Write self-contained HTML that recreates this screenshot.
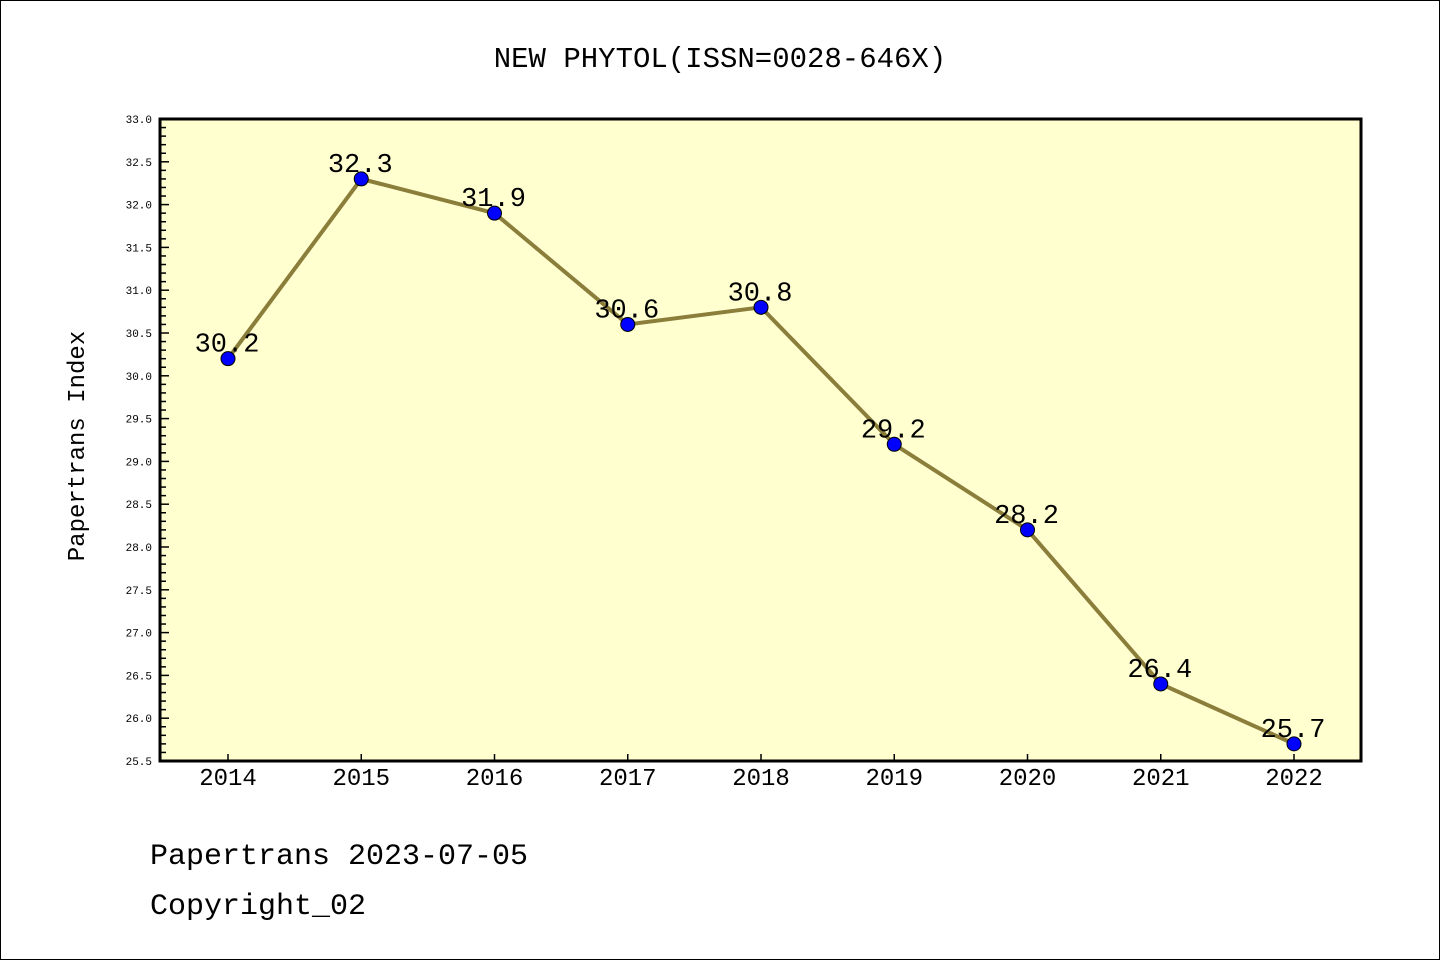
<!DOCTYPE html>
<html><head><meta charset="utf-8"><style>
html,body{margin:0;padding:0;background:#fff}
svg{display:block}
text{font-family:"Liberation Mono","WenQuanYi Zen Hei",monospace;fill:#000}
</style></head><body>
<svg id="chart" width="1440" height="960" xmlns="http://www.w3.org/2000/svg">
<rect x="0.5" y="0.5" width="1439" height="959" fill="#fff" stroke="#000"/>
<text x="720" y="67" font-size="29" text-anchor="middle">NEW PHYTOL(ISSN=0028-646X)</text>
<rect x="160" y="119" width="1201" height="642" fill="#ffffd0"/>
<g id="yaxis"></g>
<g id="xaxis"></g>
<g id="series"></g>
<rect x="160" y="119" width="1201" height="642" fill="none" stroke="#000" stroke-width="3"/>
<text transform="translate(84,446) rotate(-90)" font-size="24" text-anchor="middle">Papertrans Index</text>
<text x="150" y="864" font-size="30">Papertrans 2023-07-05</text>
<text x="150" y="914" font-size="30">Copyright_02</text>
</svg>
<script>
const years = ["2014","2015","2016","2017","2018","2019","2020","2021","2022"];
const values = [30.2,32.3,31.9,30.6,30.8,29.2,28.2,26.4,25.7];
const yTicks = ["25.5","26.0","26.5","27.0","27.5","28.0","28.5","29.0","29.5","30.0","30.5","31.0","31.5","32.0","32.5","33.0"];
const NS="http://www.w3.org/2000/svg";
const yMin=25.5,yMax=33.0,plotTop=119,plotBot=761,plotLeft=160;
const x0=228,x1=1294;
function yS(v){return plotBot-(v-yMin)/(yMax-yMin)*(plotBot-plotTop);}
function xS(i){return x0+i*(x1-x0)/(years.length-1);}
function mk(tag,attrs,parent){const e=document.createElementNS(NS,tag);for(const k in attrs)e.setAttribute(k,attrs[k]);parent.appendChild(e);return e;}
const ya=document.getElementById('yaxis'),xa=document.getElementById('xaxis'),sr=document.getElementById('series');
for(let k=0;k<=75;k++){
  const v=yMin+k*0.1,y=yS(v),major=k%5===0;
  const t=mk('line',{x1:plotLeft,x2:plotLeft+(major?9:6),y1:y,y2:y,stroke:'#000','stroke-width':1.5},ya);
  
  
}
yTicks.forEach(s=>{
  const t=mk('text',{x:plotLeft-8,y:yS(parseFloat(s))+4,'font-size':11,'text-anchor':'end','font-family':'DejaVu Sans, sans-serif'},ya);
  t.textContent=s;
  
  
});
years.forEach((yr,i)=>{
  const l=mk('line',{x1:xS(i),x2:xS(i),y1:plotBot,y2:plotBot-7,stroke:'#000','stroke-width':1.5},xa);
  
  
  const t=mk('text',{x:xS(i),y:plotBot+24,'font-size':24,'text-anchor':'middle'},xa);
  t.textContent=yr;
  
  
});
const pts=values.map((v,i)=>xS(i)+','+yS(v)).join(' ');
const pl=mk('polyline',{points:pts,fill:'none',stroke:'#8b7d3a','stroke-width':4},sr);


values.forEach((v,i)=>{
  const c=mk('circle',{cx:xS(i),cy:yS(v),r:7,fill:'#0000ff',stroke:'#000','stroke-width':1},sr);
  
  
  const t=mk('text',{x:xS(i)-1,y:yS(v)-7,'font-size':27,'text-anchor':'middle'},sr);
  t.textContent=v.toFixed(1);
  
  
});
</script>
</body></html>
